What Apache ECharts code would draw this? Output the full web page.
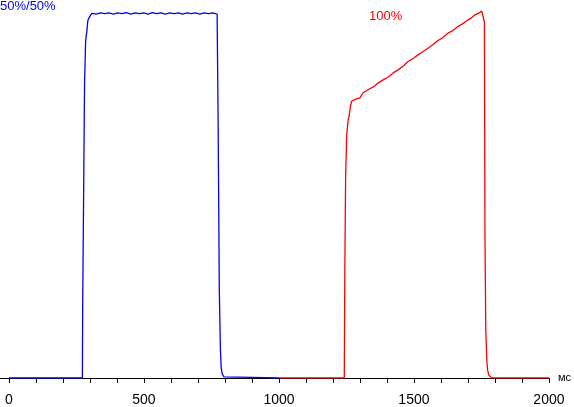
<!DOCTYPE html>
<html>
<head>
<meta charset="utf-8">
<script src="https://cdn.jsdelivr.net/npm/echarts@6/dist/echarts.min.js"></script>
<style>
  html, body { margin: 0; padding: 0; background: #fff; }
  #chart { width: 574px; height: 407px; }
</style>
</head>
<body>
<div id="chart"></div>
<script>
// время, мс / уровень яркости, %
const blueTime = [0, 272, 273, 276, 280, 284, 289, 292, 296, 301, 307,
  323, 339, 355, 371, 387, 403, 419, 435, 451, 467, 483, 499, 515, 531, 547,
  563, 579, 595, 611, 627, 643, 659, 675, 691, 707, 723, 739, 755, 771,
  774, 775, 779, 783, 786, 790, 796, 800, 1000];
const blueValue = [0, 0, 19.4, 19.4, 80, 91.6, 94.6, 97.1, 97.8, 98.4, 99.1,
  98.9, 99.2, 99.0, 99.2, 98.9, 99.2, 99.0, 99.3, 98.9, 99.2, 99.0, 99.2, 98.9, 99.3, 99.0,
  99.2, 98.9, 99.2, 99.0, 99.2, 98.9, 99.2, 99.0, 99.2, 98.9, 99.2, 99.0, 99.2, 98.9,
  98.9, 66.7, 24.3, 8.1, 2.7, 1.1, 0.3, 0, 0];

const redTime = [1000, 1242, 1244, 1247, 1251, 1256, 1260, 1265, 1269, 1282,
  1300, 1312, 1331, 1350, 1368, 1386, 1405, 1423, 1442, 1460, 1478, 1497,
  1515, 1534, 1552, 1571, 1589, 1607, 1626, 1644, 1663, 1681, 1700, 1712,
  1724, 1742, 1751, 1758, 1761, 1763, 1766, 1770, 1773, 1777, 1781, 1788, 2000];
const redValue = [0, 0, 30, 55, 66, 70, 71.2, 73.9, 75.2, 75.7,
  76.1, 77.5, 78.4, 79.1, 80.2, 81.0, 81.8, 82.9, 83.8, 84.7, 86.0, 86.8,
  87.8, 88.7, 89.6, 90.6, 91.7, 92.5, 93.7, 94.4, 95.5, 96.3, 97.3, 97.8,
  98.6, 99.2, 99.7, 99.7, 96.8, 39.7, 13.2, 4.6, 2.1, 0.8, 0.3, 0, 0];

const tickValues = [0, 100, 200, 300, 400, 500, 600, 700, 800, 900, 1000,
  1100, 1200, 1300, 1400, 1500, 1600, 1700, 1800, 1900, 2000];
const labelValues = [0, 500, 1000, 1500, 2000];

const FONT = '"Liberation Sans", Arial, sans-serif';

function pairs(xs, ys) {
  return xs.map((x, i) => [x, ys[i]]);
}

const chart = echarts.init(document.getElementById('chart'), null, { renderer: 'canvas' });

const option = {
  animation: false,
  backgroundColor: '#fff',
  grid: { left: 0, right: 22.5, top: 10, bottom: 26, containLabel: false },
  xAxis: {
    type: 'value',
    min: -33.2,
    max: 2000,
    name: 'мс',
    nameLocation: 'end',
    nameGap: 9,
    nameTextStyle: { color: '#000', fontSize: 11, fontFamily: FONT, verticalAlign: 'middle' },
    axisLine: { show: true, lineStyle: { color: '#000', width: 1 } },
    axisTick: { show: true, length: 5, customValues: tickValues, lineStyle: { color: '#000' } },
    axisLabel: {
      customValues: labelValues,
      formatter: v => String(v),
      color: '#000', fontSize: 14, fontFamily: FONT, margin: 14
    },
    splitLine: { show: false }
  },
  yAxis: {
    type: 'value',
    min: -0.3,
    max: 100,
    show: false
  },
  graphic: [
    { type: 'text', left: 0, top: 0,
      style: { text: '50%/50%', fill: '#0000ff', font: '13px ' + FONT } },
    { type: 'text', left: 369, top: 10,
      style: { text: '100%', fill: '#ff0000', font: '13px ' + FONT } }
  ],
  series: [
    {
      type: 'line',
      data: pairs(blueTime, blueValue),
      showSymbol: false,
      lineStyle: { color: '#0000ff', width: 1.3 },
      silent: true
    },
    {
      type: 'line',
      data: pairs(redTime, redValue),
      showSymbol: false,
      lineStyle: { color: '#ff0000', width: 1.3 },
      silent: true
    }
  ]
};

chart.setOption(option);
</script>
</body>
</html>
